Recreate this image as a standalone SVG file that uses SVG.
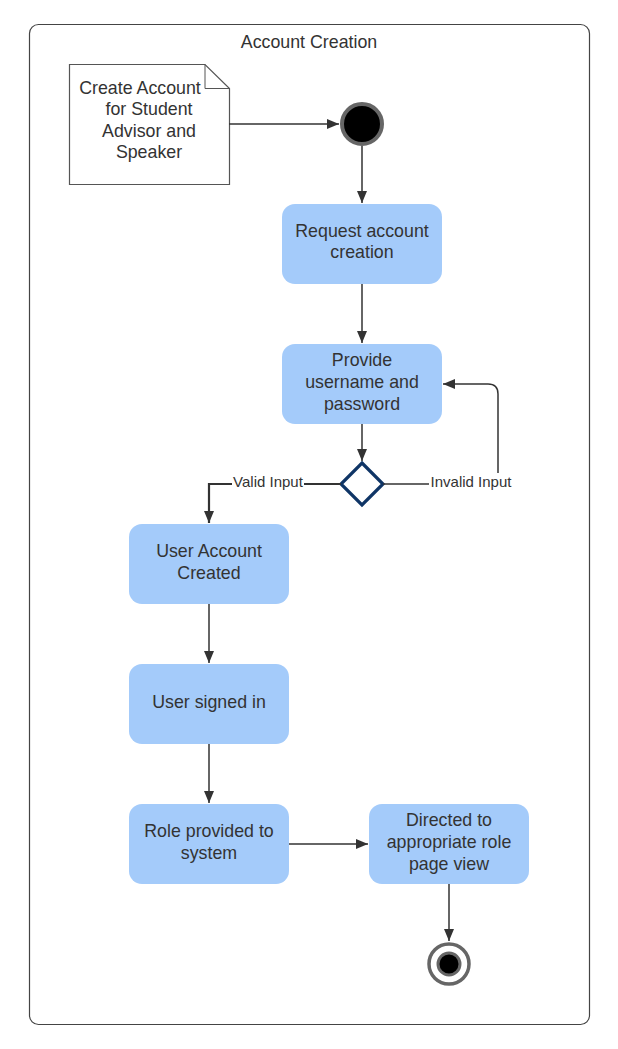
<svg xmlns="http://www.w3.org/2000/svg" width="618" height="1049" viewBox="0 0 618 1049">
<style>
.t{font-family:"Liberation Sans",Arial,sans-serif;font-size:17.8px;fill:#333;text-anchor:middle}
.lb{font-family:"Liberation Sans",Arial,sans-serif;font-size:15px;fill:#333;text-anchor:middle}
.box{fill:#a4cbfa;stroke:none}
.c{fill:none;stroke:#333;stroke-width:1.5}
</style>
<defs>
<marker id="ar" viewBox="0 0 12 10" refX="12" refY="5" markerWidth="12" markerHeight="10" markerUnits="userSpaceOnUse" orient="auto">
<path d="M0,0 L12,5 L0,10 Z" fill="#333"/>
</marker>
</defs>
<rect width="618" height="1049" fill="#fff"/>
<g id="frame">
<rect x="29.5" y="24.5" width="560" height="1000" rx="9" fill="none" stroke="#444" stroke-width="1.2"/>
<text class="t" x="309" y="48">Account Creation</text>
</g>
<g id="note">
<path d="M69.5,64.5 H205 L229.5,88.5 V184.5 H69.5 Z" fill="#fff" stroke="#555" stroke-width="1.2"/>
<path d="M205,64.5 V88.5 H229.5" fill="none" stroke="#555" stroke-width="1"/>
<text class="t" x="140" y="94">Create Account</text>
<text class="t" x="149" y="115">for Student</text>
<text class="t" x="149" y="137">Advisor and</text>
<text class="t" x="149" y="158">Speaker</text>
</g>
<g id="start">
<circle cx="362" cy="124" r="20" fill="#000" stroke="#666" stroke-width="4"/>
</g>
<g id="n1">
<rect class="box" x="282" y="204" width="160" height="80" rx="13"/>
<text class="t" x="362" y="237">Request account</text>
<text class="t" x="362" y="258">creation</text>
</g>
<g id="n2">
<rect class="box" x="282" y="344" width="160" height="80" rx="13"/>
<text class="t" x="362" y="366">Provide</text>
<text class="t" x="362" y="388">username and</text>
<text class="t" x="362" y="410">password</text>
</g>
<g id="decision">
<path d="M362,463 L383,484 L362,505 L341,484 Z" fill="#fff" stroke="#0f3566" stroke-width="3.2" stroke-linejoin="miter"/>
</g>
<g id="n3">
<rect class="box" x="129" y="524" width="160" height="80" rx="13"/>
<text class="t" x="209" y="557">User Account</text>
<text class="t" x="209" y="579">Created</text>
</g>
<g id="n4">
<rect class="box" x="129" y="664" width="160" height="80" rx="13"/>
<text class="t" x="209" y="708">User signed in</text>
</g>
<g id="n5">
<rect class="box" x="129" y="804" width="160" height="80" rx="13"/>
<text class="t" x="209" y="837">Role provided to</text>
<text class="t" x="209" y="859">system</text>
</g>
<g id="n6">
<rect class="box" x="369" y="804" width="160" height="80" rx="13"/>
<text class="t" x="449" y="826">Directed to</text>
<text class="t" x="449" y="848">appropriate role</text>
<text class="t" x="449" y="870">page view</text>
</g>
<g id="end">
<circle cx="449" cy="964" r="20" fill="#fff" stroke="#666" stroke-width="3.5"/>
<circle cx="449" cy="964" r="11" fill="#000" stroke="#666" stroke-width="3"/>
</g>
<g id="connectors">
<path class="c" d="M229,124 H339" marker-end="url(#ar)"/>
<path class="c" d="M362,146 V203" marker-end="url(#ar)"/>
<path class="c" d="M362,284 V343" marker-end="url(#ar)"/>
<path class="c" d="M362,424 V461" marker-end="url(#ar)"/>
<path d="M341,484 H304 M232,484 H209 V523" fill="none" stroke="#333" stroke-width="2.2" marker-end="url(#ar)"/>
<text class="lb" x="268" y="487">Valid Input</text>
<path class="c" d="M383,484 H429" stroke="#555"/>
<path class="c" d="M498,473 V394 Q498,384 488,384 H443" stroke="#555" marker-end="url(#ar)"/>
<text class="lb" x="471" y="487">Invalid Input</text>
<path class="c" d="M209,604 V663" marker-end="url(#ar)"/>
<path class="c" d="M209,744 V803" marker-end="url(#ar)"/>
<path class="c" d="M289,844 H368" marker-end="url(#ar)"/>
<path class="c" d="M449,884 V941" marker-end="url(#ar)"/>
</g>
</svg>
